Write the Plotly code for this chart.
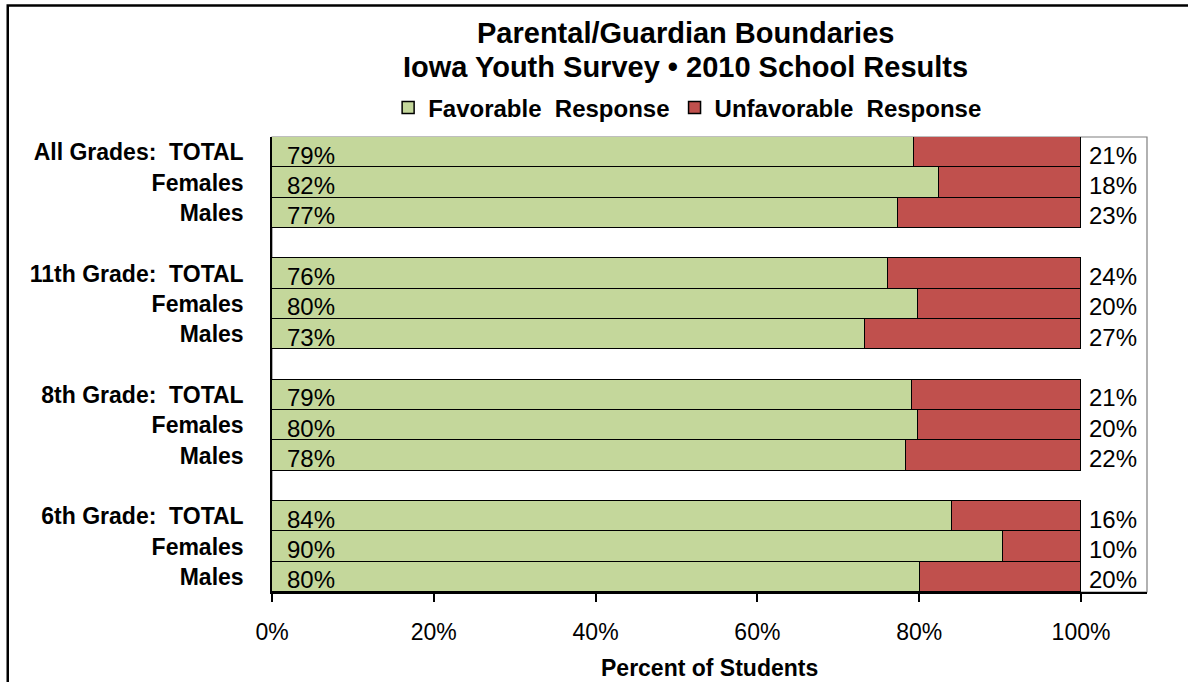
import plotly.graph_objects as go

# ---------------- data ----------------
groups = ["All Grades", "11th Grade", "8th Grade", "6th Grade"]
subgroups = ["TOTAL", "Females", "Males"]
favorable = [79.4, 82.4, 77.4, 76.1, 79.9, 73.3, 79.1, 79.9, 78.4, 84.0, 90.4, 80.1]
unfavorable = [20.6, 17.6, 22.6, 23.9, 20.1, 26.7, 20.9, 20.1, 21.6, 16.0, 9.6, 19.9]
favorable_labels = ["79%", "82%", "77%", "76%", "80%", "73%", "79%", "80%", "78%", "84%", "90%", "80%"]
unfavorable_labels = ["21%", "18%", "23%", "24%", "20%", "27%", "21%", "20%", "22%", "16%", "10%", "20%"]
series_names = ["Favorable\u00a0 Response", "Unfavorable\u00a0 Response"]
x_ticks = [0, 20, 40, 60, 80, 100]
x_tick_labels = ["0%", "20%", "40%", "60%", "80%", "100%"]

GREEN = "#C4D79B"
RED = "#C0504D"
FONT = "Arial, Liberation Sans, sans-serif"

# build row positions (a blank row between groups)
ys, row_labels = [], []
for gi, g in enumerate(groups):
    for si, s in enumerate(subgroups):
        ys.append(gi * 4 + si)
        if s == "TOTAL":
            row_labels.append(f"{g}:\u00a0\u00a0TOTAL")
        else:
            row_labels.append(s)

fig = go.Figure()
fig.add_trace(go.Bar(
    y=ys, x=favorable, orientation="h", name=series_names[0],
    marker=dict(color=GREEN, line=dict(color="black", width=1.5)),
    width=1.0, hoverinfo="skip",
))
fig.add_trace(go.Bar(
    y=ys, x=unfavorable, orientation="h", name=series_names[1],
    marker=dict(color=RED, line=dict(color="black", width=1.5)),
    width=1.0, hoverinfo="skip",
))

annotations = []
for y, f, u, fl, ul in zip(ys, favorable, unfavorable, favorable_labels, unfavorable_labels):
    annotations.append(dict(x=0, y=y, xref="x", yref="y", text=fl, showarrow=False,
                            xanchor="left", yanchor="middle", xshift=13, yshift=-3,
                            font=dict(family=FONT, size=24, color="black")))
    annotations.append(dict(x=f + u, y=y, xref="x", yref="y", text=ul, showarrow=False,
                            xanchor="left", yanchor="middle", xshift=6, yshift=-3,
                            font=dict(family=FONT, size=24, color="black")))

# title lines
annotations.append(dict(x=0.473, y=1.229, xref="paper", yref="paper",
                        text="<b>Parental/Guardian Boundaries</b>", showarrow=False,
                        xanchor="center", yanchor="middle",
                        font=dict(family=FONT, size=29, color="black")))
annotations.append(dict(x=0.473, y=1.154, xref="paper", yref="paper",
                        text="<b>Iowa Youth Survey • 2010 School Results</b>", showarrow=False,
                        xanchor="center", yanchor="middle",
                        font=dict(family=FONT, size=29, color="black")))
# axis title
annotations.append(dict(x=0.5, y=-0.167, xref="paper", yref="paper",
                        text="<b>Percent of Students</b>", showarrow=False,
                        xanchor="center", yanchor="middle",
                        font=dict(family=FONT, size=23, color="black")))

shapes = [
    # plot-area frame
    dict(type="rect", xref="paper", yref="paper", x0=0, x1=1, y0=0, y1=1,
         line=dict(color="#7F7F7F", width=1.2), fillcolor="rgba(0,0,0,0)", layer="below"),
    # outer chart border (extends past the page on right/bottom)
    dict(type="rect", xref="paper", yref="paper", x0=-0.302, x1=1.3, y0=-0.6, y1=1.289,
         line=dict(color="black", width=2.5), fillcolor="rgba(0,0,0,0)"),
]

fig.update_layout(
    width=1188, height=682,
    margin=dict(l=272, r=41, t=137, b=90),
    paper_bgcolor="white", plot_bgcolor="white",
    barmode="stack", bargap=0,
    font=dict(family=FONT, color="black"),
    showlegend=True,
    legend=dict(orientation="h", x=0.475, y=1.064, xanchor="center", yanchor="middle",
                font=dict(family=FONT, size=24, color="black", weight="bold"),
                itemwidth=30, traceorder="normal", bgcolor="rgba(0,0,0,0)"),
    annotations=annotations,
    shapes=shapes,
)

fig.update_xaxes(
    range=[0, 108.16], tickvals=x_ticks, ticktext=x_tick_labels,
    showgrid=False, zeroline=False,
    showline=True, linecolor="black", linewidth=1.5,
    ticks="outside", ticklen=8, tickcolor="black", tickwidth=1.5,
    ticklabelstandoff=11,
    tickfont=dict(family=FONT, size=23, color="black"),
)
fig.update_yaxes(
    range=[14.5, -0.5], tickvals=ys, ticktext=row_labels,
    showgrid=False, zeroline=False,
    showline=True, linecolor="black", linewidth=1.5,
    ticks="", ticklabelstandoff=22,
    tickfont=dict(family=FONT, size=23, color="black", weight="bold"),
)

fig.write_html("out.html", config={"displayModeBar": False},
               post_script="document.body.style.margin='0';")
